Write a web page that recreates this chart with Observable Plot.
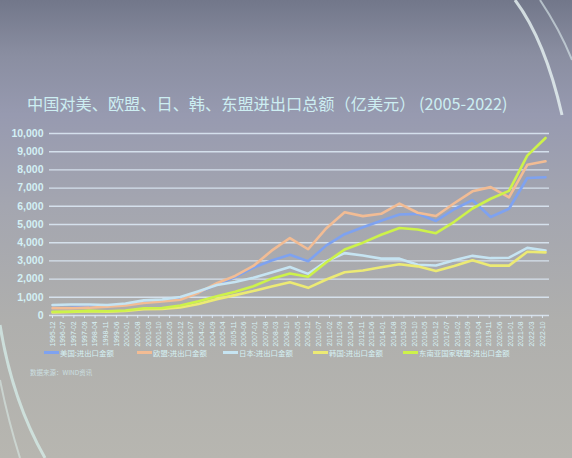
<!DOCTYPE html>
<html><head><meta charset="utf-8">
<script src="https://cdn.jsdelivr.net/npm/d3@7"></script>
<script src="https://cdn.jsdelivr.net/npm/@observablehq/plot@0.6"></script>
<style>
html,body{margin:0;padding:0;width:572px;height:458px;overflow:hidden;}
body{position:relative;background:linear-gradient(180deg,#72778a 0%,#8a8ea1 12%,#979ab0 25%,#a4a6b0 45%,#afafad 70%,#b7b6b0 100%);font-family:"Noto Sans CJK SC",sans-serif;}
#deco{position:absolute;left:0;top:0;}
#title{position:absolute;left:27px;top:91px;font-size:16.2px;color:#cdeef2;white-space:nowrap;}
#chart{position:absolute;left:0;top:123px;}
.lg{position:absolute;top:347px;font-size:7.4px;color:#d5f0f4;white-space:nowrap;display:flex;align-items:center;}
.sw{display:inline-block;width:15px;height:2.5px;margin-right:1px;}
#src{position:absolute;left:30px;top:367px;font-size:6.5px;color:#d5eef2;opacity:0.75;}
</style></head>
<body>
<svg id="deco" width="572" height="458">
  <path d="M515,0 Q545,40 562,115" stroke="#e8f4f4" stroke-width="3" fill="none" opacity="0.8"/>
  <path d="M540,0 Q560,30 572,60" stroke="#dfeff0" stroke-width="2" fill="none" opacity="0.6"/>
  <path d="M0,325 Q12,400 45,458" stroke="#d8f2ee" stroke-width="3" fill="none" opacity="0.7"/>
  <path d="M0,380 Q8,420 20,458" stroke="#e0f4f0" stroke-width="2" fill="none" opacity="0.5"/>
</svg>
<div id="title">中国对美、欧盟、日、韩、东盟进出口总额（亿美元） (2005-2022)</div>
<div id="chart"></div>
<div id="legend"></div>
<div id="src">数据来源：WIND资讯</div>
<script>
const years = [1995,1996,1997,1998,1999,2000,2001,2002,2003,2004,2005,2006,2007,2008,2009,2010,2011,2012,2013,2014,2015,2016,2017,2018,2019,2020,2021,2022];
const seriesNames = ["美国:进出口金额","欧盟:进出口金额","日本:进出口金额","韩国:进出口金额","东南亚国家联盟:进出口金额"];
const us    = [408,428,490,549,615,745,805,972,1263,1696,2116,2627,3021,3337,2983,3853,4467,4847,5210,5551,5583,5196,5837,6335,5413,5867,7557,7594];
const eu    = [403,397,430,489,556,690,766,868,1252,1773,2173,2723,3561,4256,3641,4797,5672,5460,5590,6151,5647,5470,6169,6821,7053,6495,8281,8473];
const japan = [575,601,608,579,662,832,878,1019,1336,1678,1845,2074,2360,2668,2288,2978,3429,3295,3124,3124,2787,2748,3030,3277,3150,3175,3714,3574];
const korea = [170,200,240,213,250,345,359,441,632,900,1119,1343,1599,1830,1520,1980,2380,2470,2650,2820,2700,2440,2720,3030,2740,2740,3500,3470];
const asean = [204,212,252,236,272,395,416,548,783,1059,1304,1608,2026,2311,2130,2928,3629,4001,4436,4804,4722,4522,5148,5878,6415,6846,8782,9753];
const colors = ["#7ea2f0","#f2bc94","#c6e4f2","#ecea74","#cdf24a"];
const yTicks = [0,1000,2000,3000,4000,5000,6000,7000,8000,9000,10000];
const xTickLabels = ["1995-12","1996-07","1997-02","1997-09","1998-04","1998-11","1999-06","2000-01","2000-08","2001-03","2001-10","2002-05","2002-12","2003-07","2004-02","2004-09","2005-04","2005-11","2006-06","2007-01","2007-08","2008-03","2008-10","2009-05","2009-12","2010-07","2011-02","2011-09","2012-04","2012-11","2013-06","2014-01","2014-08","2015-03","2015-10","2016-05","2016-12","2017-07","2018-02","2018-09","2019-04","2019-11","2020-06","2021-01","2021-08","2022-03","2022-10"];

const parse = d3.utcParse("%Y-%m");
const allValues = [us, eu, japan, korea, asean];
const data = [];
allValues.forEach((vals, s) => vals.forEach((v, i) => data.push({series: seriesNames[s], date: new Date(Date.UTC(years[i], 11, 1)), value: v})));
const xTicks = xTickLabels.map(parse);

const chart = Plot.plot({
  width: 572, height: 230,
  marginTop: 10, marginBottom: 38, marginLeft: 52, marginRight: 27,
  style: {background: "transparent", color: "#d5f1f5", fontFamily: "'Liberation Sans', Arial, sans-serif", overflow: "visible"},
  x: {type: "utc", domain: [new Date(Date.UTC(years[0], 11, 1)), new Date(Date.UTC(years[years.length-1], 11, 1))], label: null},
  y: {domain: [0, 10000], label: null},
  color: {domain: seriesNames, range: colors},
  marks: [
    Plot.ruleY(yTicks, {stroke: "#dae7f3", strokeWidth: 1.4, strokeOpacity: 0.9, insetLeft: -3, insetRight: -4}),
    Plot.axisY({ticks: yTicks, tickSize: 0, tickPadding: 9, tickFormat: d3.format(","), fontSize: 10.5, fontWeight: 600, fill: "#d3f0f5"}),
    Plot.axisX({ticks: xTicks, tickFormat: d3.utcFormat("%Y-%m"), tickRotate: -90, fontSize: 6.8, tickSize: 3, tickPadding: 3, stroke: "#dae7f3", fill: "#d8f2f6"}),
    Plot.line(data, {x: "date", y: "value", z: "series", stroke: "series", strokeWidth: 2.6, strokeLinejoin: "round"})
  ]
});
document.getElementById("chart").appendChild(chart);

const legendLeft = [44, 137, 223, 313, 403];
const lg = document.getElementById("legend");
seriesNames.forEach((name, i) => {
  const d = document.createElement("div");
  d.className = "lg";
  d.style.left = legendLeft[i] + "px";
  d.innerHTML = `<span class="sw" style="background:${colors[i]}"></span>${name}`;
  lg.appendChild(d);
});
</script>
</body></html>
